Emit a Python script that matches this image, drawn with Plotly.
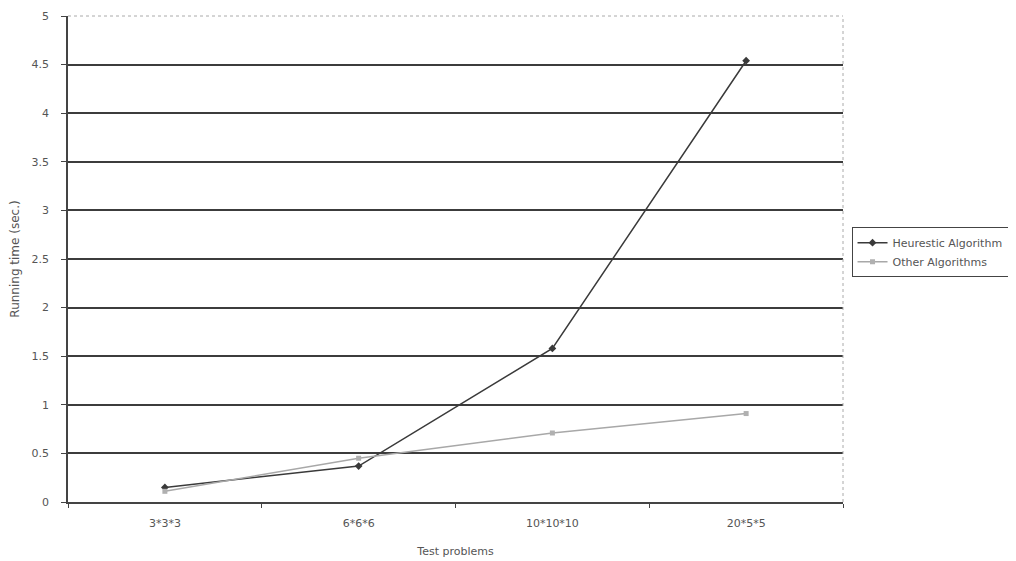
import plotly.graph_objects as go

categories = ["3*3*3", "6*6*6", "10*10*10", "20*5*5"]
heuristic = [0.15, 0.37, 1.58, 4.54]
other = [0.11, 0.45, 0.71, 0.91]
y_ticks = [0, 0.5, 1, 1.5, 2, 2.5, 3, 3.5, 4, 4.5, 5]
y_tick_labels = ["0", "0.5", "1", "1.5", "2", "2.5", "3", "3.5", "4", "4.5", "5"]

font_family = "Verdana, DejaVu Sans, Arial, sans-serif"
text_color = "#555"

fig = go.Figure()
fig.add_trace(go.Scatter(
    x=categories, y=heuristic, name="Heurestic Algorithm",
    mode="lines+markers",
    line=dict(color="#3a3a3a", width=1.5),
    marker=dict(symbol="diamond", size=6, color="#3a3a3a"),
))
fig.add_trace(go.Scatter(
    x=categories, y=other, name="Other Algorithms",
    mode="lines+markers",
    line=dict(color="#a8a8a8", width=1.5),
    marker=dict(symbol="square", size=5, color="#b0b0b0"),
))

fig.update_layout(
    width=1000, height=553,
    margin=dict(l=60, r=165, t=8, b=59, autoexpand=False),
    paper_bgcolor="white", plot_bgcolor="white",
    font=dict(family=font_family, size=11, color=text_color),
    showlegend=True,
    legend=dict(
        x=1.011, y=0.514, xanchor="left", yanchor="middle",
        bordercolor="#444", borderwidth=1, bgcolor="white",
        font=dict(size=11, color=text_color),
        tracegroupgap=0, itemwidth=30,
    ),
    xaxis=dict(
        title=dict(text="Test problems", font=dict(size=11, color=text_color), standoff=18),
        type="category",
        range=[-0.5, 3.5],
        automargin=False,
        showline=True, linecolor="#444", linewidth=1.5,
        ticks="outside", ticklen=4, tickcolor="#444",
        tickson="boundaries",
        ticklabelstandoff=10,
        showgrid=False, mirror=False,
        tickfont=dict(size=11, color=text_color),
    ),
    yaxis=dict(
        title=dict(text="Running time (sec.)", font=dict(size=12, color=text_color), standoff=16),
        range=[0, 5],
        automargin=False,
        tickvals=y_ticks, ticktext=y_tick_labels,
        showline=True, linecolor="#444", linewidth=1.5,
        ticks="outside", ticklen=5, tickcolor="#444",
        ticklabelstandoff=10,
        showgrid=True, gridcolor="#3c3c3c", gridwidth=1.8,
        zeroline=False,
        tickfont=dict(size=11, color=text_color),
    ),
)

# light dotted border on top and right of plot area
fig.add_shape(type="line", xref="paper", yref="paper", x0=1, x1=1, y0=0, y1=1,
              line=dict(color="#aaa", width=1, dash="dot"))
fig.add_shape(type="line", xref="paper", yref="paper", x0=0, x1=1, y0=1, y1=1,
              line=dict(color="#aaa", width=1, dash="dot"))

fig.write_html("out.html")
